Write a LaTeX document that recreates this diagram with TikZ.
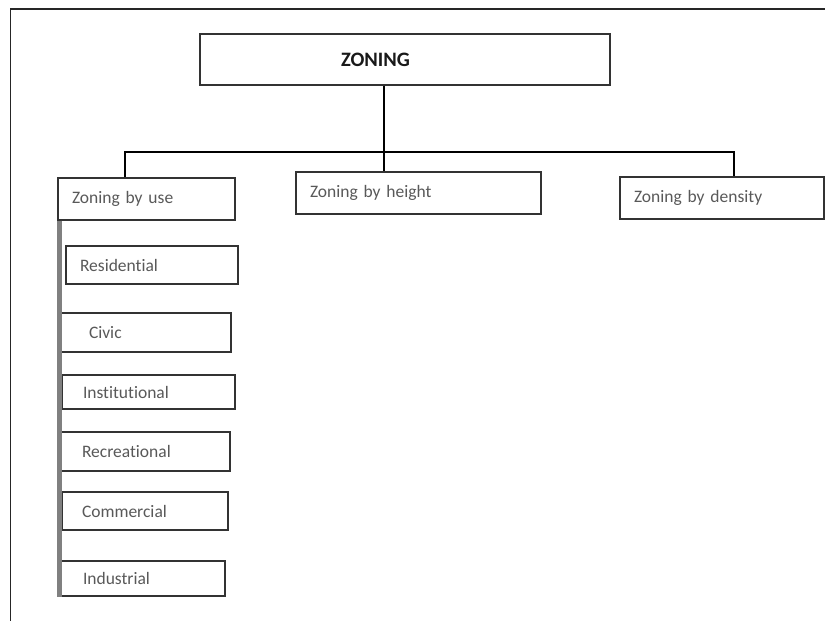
\documentclass[tikz,border=0pt]{standalone}
\usepackage{fontspec}
\setmainfont[Ligatures=NoCommon]{Carlito}
\begin{document}
\begin{tikzpicture}[x=1pt,y=-1pt,
  box/.style={draw=black!80, line width=1.4pt, rectangle, inner ysep=0pt, align=left,
    font=\fontsize{17.5}{20}\selectfont, text=black!65},
  conn/.style={draw=black, line width=2.4pt},
  bar/.style={draw=black!50, line width=5pt},
  frame/.style={draw=black!85, line width=1.5pt}]
\useasboundingbox (0,0) rectangle (825,621);
\fill[white] (0,0) rectangle (825,621);
\draw[frame] (10.5,621) -- (10.5,9) -- (825,9);
% top
\node[box, minimum width=410pt, minimum height=51pt, inner xsep=141pt, text width=128pt,
  font=\fontsize{20.5}{24}\selectfont\bfseries, text=black!90] (zon) at (405,59.5) {ZONING};
% level 2
\node[box, minimum width=177pt, minimum height=42pt, inner xsep=14pt, text width=149pt] (use) at (146.5,199) {Zoning by use};
\node[box, minimum width=245pt, minimum height=42pt, inner xsep=14pt, text width=217pt] (hgt) at (418.5,193) {Zoning by height};
\node[box, minimum width=204pt, minimum height=42pt, inner xsep=14pt, text width=176pt] (dens) at (722,198) {Zoning by density};
% level 3
\node[box, minimum width=172pt, minimum height=38pt, inner xsep=14pt, text width=144pt] (res) at (152,265) {Residential};
\node[box, minimum width=173pt, minimum height=39pt, inner xsep=31pt, text width=111pt] (civ) at (144.5,332.5) {Civic};
\node[box, minimum width=173pt, minimum height=34pt, inner xsep=21pt, text width=131pt] (ins) at (148.5,392) {Institutional};
\node[box, minimum width=172pt, minimum height=39pt, inner xsep=24pt, text width=124pt] (rec) at (144,451.5) {Recreational};
\node[box, minimum width=166pt, minimum height=38pt, inner xsep=20pt, text width=126pt] (com) at (145,511) {Commercial};
\node[box, minimum width=165pt, minimum height=35pt, inner xsep=23pt, text width=119pt] (ind) at (142.5,578.5) {Industrial};
% connectors
\coordinate (bus) at (384,152);
\coordinate (busL) at (125,152);
\coordinate (busR) at (734,152);
\draw[conn] (zon.south -| bus) -- (bus) -- (hgt.north -| bus);
\draw[conn] (use.north -| busL) -- (busL) -- (busR) -- (dens.north -| busR);
\draw[bar] ([xshift=2.5pt]use.south west) -- ([xshift=2.5pt]use.south west |- ind.south);
\end{tikzpicture}
\end{document}
